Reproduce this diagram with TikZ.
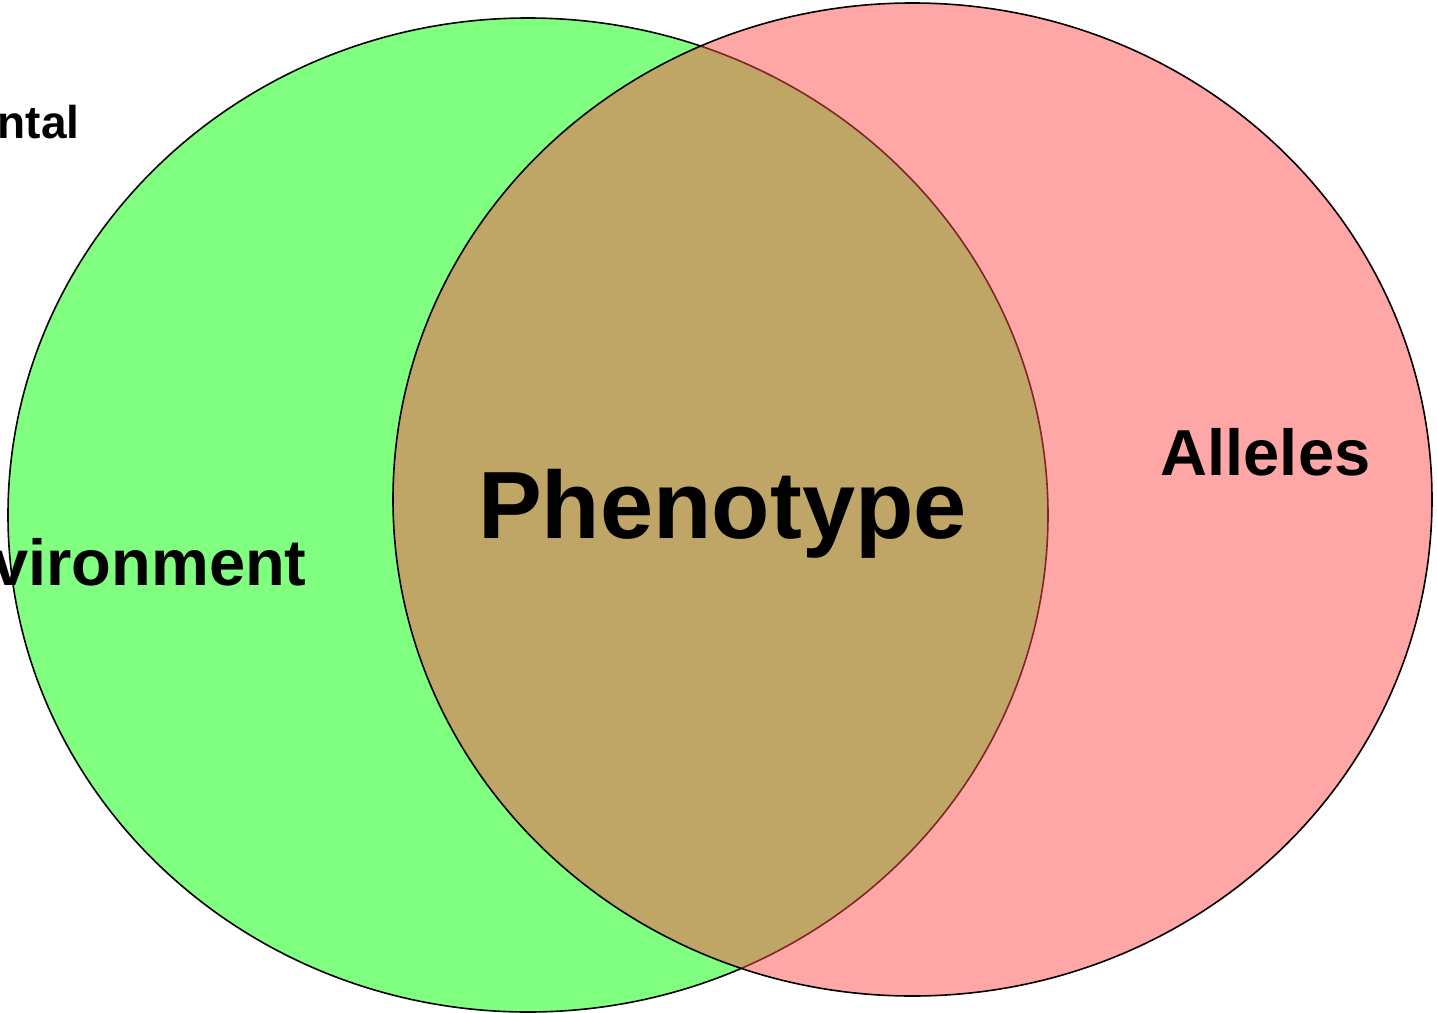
\documentclass[tikz,border=0pt]{standalone}
\usepackage{fontspec}
\setmainfont{Liberation Sans}
\usepackage{tikz}
\usetikzlibrary{positioning}

\definecolor{envgreen}{RGB}{128,255,128}
\definecolor{allelered}{RGB}{255,77,77}

\begin{document}
\begin{tikzpicture}
[x=0.5pt,y=-0.5pt,
 setshape/.style={draw=black,line width=0.8pt},
 envset/.style={setshape,fill=envgreen},
 alleleset/.style={setshape,fill=allelered,fill opacity=0.5},
 setname/.style={inner sep=0pt,font=\bfseries\fontsize{32.5}{39}\selectfont},
 smallname/.style={inner sep=0pt,font=\bfseries\fontsize{23}{28}\selectfont},
 centrename/.style={inner sep=0pt,font=\bfseries\fontsize{47.8}{58}\selectfont}]

\useasboundingbox (0,0) rectangle (1437,1013);
\clip (0,0) rectangle (1437,1013);

\draw [envset] (528,515) ellipse [x radius=520,y radius=497];
\draw [alleleset] (912.5,499.5) ellipse [x radius=519.5,y radius=496.5];

\node (envtop) [smallname,anchor=base east] at (80,138) {Environmental};
\node (env) [setname,anchor=base east] at (307,585) {Environment};
\node (pheno) [centrename,anchor=base] at (722.5,538) {Phenotype};
\node (alleles) [setname,anchor=base] at (1265.5,475) {Alleles};
\end{tikzpicture}
\end{document}
